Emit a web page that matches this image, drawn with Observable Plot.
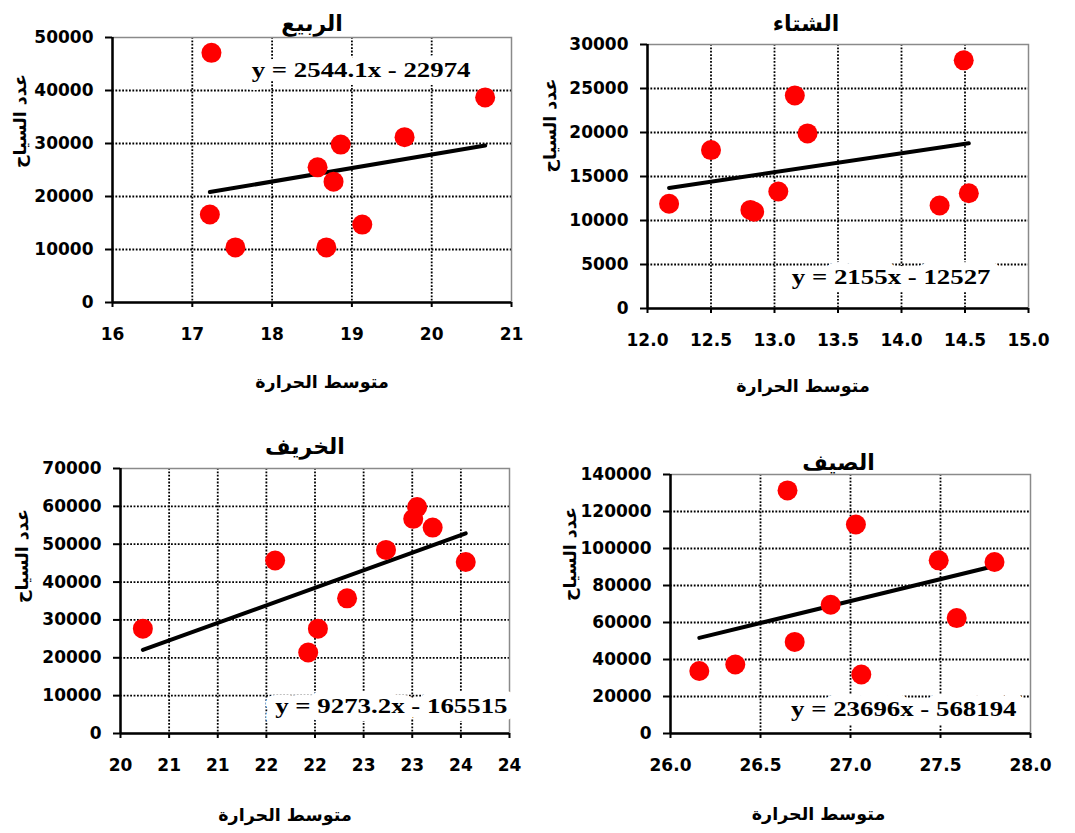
<!DOCTYPE html>
<html>
<head>
<meta charset="utf-8">
<script src="https://cdn.jsdelivr.net/npm/d3@7"></script>
<script src="https://cdn.jsdelivr.net/npm/@observablehq/plot@0.6"></script>
<style>
  body { margin: 0; background: #fff; }
  #chart { position: relative; width: 1075px; height: 833px; overflow: hidden; background: #fff; }
  #chart svg { position: absolute; }
</style>
</head>
<body>
<div id="chart"></div>
<script>
// Shared labels
const xTitle = "متوسط الحرارة";
const yTitle = "عدد السياح";

// Spring (الربيع): mean temperature vs. number of tourists
const springTemp = [17.24, 20.67, 19.66, 18.86, 18.57, 18.77, 17.22, 19.13, 17.54, 18.68];
const springTourists = [47100, 38700, 31200, 29800, 25500, 22800, 16600, 14700, 10400, 10400];
const springFit = [2544.1, -22974];
const springXTicks = [16, 17, 18, 19, 20, 21];
const springXLabels = ["16", "17", "18", "19", "20", "21"];
const springYTicks = [0, 10000, 20000, 30000, 40000, 50000];

// Winter (الشتاء)
const winterTemp = [12.17, 12.50, 12.81, 12.84, 13.03, 13.16, 13.26, 14.30, 14.49, 14.53];
const winterTourists = [11900, 18000, 11200, 11000, 13300, 24200, 19900, 11700, 28200, 13100];
const winterFit = [2155, -12527];
const winterXTicks = [12.0, 12.5, 13.0, 13.5, 14.0, 14.5, 15.0];
const winterXLabels = ["12.0", "12.5", "13.0", "13.5", "14.0", "14.5", "15.0"];
const winterYTicks = [0, 5000, 10000, 15000, 20000, 25000, 30000];

// Autumn (الخريف)
const autumnTemp = [20.23, 21.59, 21.93, 22.03, 22.33, 22.73, 23.01, 23.05, 23.21, 23.55];
const autumnTourists = [27700, 45700, 21400, 27700, 35700, 48500, 56700, 59800, 54400, 45300];
const autumnFit = [9273.2, -165515];
const autumnXTicks = [20, 20.5, 21, 21.5, 22, 22.5, 23, 23.5, 24];
const autumnXLabels = ["20", "21", "21", "22", "22", "23", "23", "24", "24"];
const autumnYTicks = [0, 10000, 20000, 30000, 40000, 50000, 60000, 70000];

// Summer (الصيف)
const summerTemp = [26.16, 26.36, 26.65, 26.69, 26.89, 27.03, 27.06, 27.49, 27.59, 27.80];
const summerTourists = [33800, 37300, 131400, 49500, 69600, 113000, 31900, 93600, 62400, 92700];
const summerFit = [23696, -568194];
const summerXTicks = [26.0, 26.5, 27.0, 27.5, 28.0];
const summerXLabels = ["26.0", "26.5", "27.0", "27.5", "28.0"];
const summerYTicks = [0, 20000, 40000, 60000, 80000, 100000, 120000, 140000];

const panels = [
  {
    title: "الربيع", temps: springTemp, tourists: springTourists, fit: springFit,
    xTicks: springXTicks, xLabels: springXLabels, yTicks: springYTicks,
    box: {left: 0, top: 0, width: 540, height: 410, mL: 112, mR: 29, mT: 37, mB: 108},
    titleOff: [0, -22], xTitleOff: [10, 85], yTitleOff: [-92, -2],
    eq: {anchor: "top-right", dx: -41, dy: 32}
  },
  {
    title: "الشتاء", temps: winterTemp, tourists: winterTourists, fit: winterFit,
    xTicks: winterXTicks, xLabels: winterXLabels, yTicks: winterYTicks,
    box: {left: 535, top: 0, width: 540, height: 410, mL: 112, mR: 47, mT: 44, mB: 102},
    titleOff: [-32, -29], xTitleOff: [-35, 83], yTitleOff: [-97, -4],
    eq: {anchor: "bottom-right", dx: -38, dy: -32}
  },
  {
    title: "الخريف", temps: autumnTemp, tourists: autumnTourists, fit: autumnFit,
    xTicks: autumnXTicks, xLabels: autumnXLabels, yTicks: autumnYTicks,
    box: {left: 0, top: 420, width: 540, height: 413, mL: 120, mR: 31, mT: 48, mB: 100},
    titleOff: [-10, -30], xTitleOff: [-30, 87], yTitleOff: [-98, 2],
    eq: {anchor: "bottom-right", dx: -2, dy: -28}
  },
  {
    title: "الصيف", temps: summerTemp, tourists: summerTourists, fit: summerFit,
    xTicks: summerXTicks, xLabels: summerXLabels, yTicks: summerYTicks,
    box: {left: 535, top: 420, width: 540, height: 413, mL: 135, mR: 45, mT: 54, mB: 100},
    titleOff: [-12, -20], xTitleOff: [-32, 86], yTitleOff: [-100, -3],
    eq: {anchor: "bottom-right", dx: -14, dy: -25}
  }
];

const chart = document.getElementById("chart");
const arabicFont = "DejaVu Sans";

for (const p of panels) {
  const points = p.temps.map((t, i) => ({t, n: p.tourists[i]}));
  const [slope, intercept] = p.fit;
  // Fitted line drawn across the observed temperature range
  const trend = d3.extent(p.temps).map(t => ({t, n: slope * t + intercept}));
  const equation = `y = ${slope}x - ${-intercept}`;
  const xFormat = new Map(p.xTicks.map((v, i) => [v, p.xLabels[i]]));
  const xDomain = [p.xTicks[0], p.xTicks[p.xTicks.length - 1]];
  const yDomain = [p.yTicks[0], p.yTicks[p.yTicks.length - 1]];
  const dotted = {stroke: "black", strokeOpacity: 1, strokeWidth: 1.8, strokeDasharray: "1.8,1.6"};

  const svg = Plot.plot({
    width: p.box.width,
    height: p.box.height,
    marginLeft: p.box.mL,
    marginRight: p.box.mR,
    marginTop: p.box.mT,
    marginBottom: p.box.mB,
    x: {domain: xDomain},
    y: {domain: yDomain},
    style: {
      fontFamily: "DejaVu Sans",
      fontWeight: "bold",
      fontSize: "17px",
      color: "black",
      background: "transparent",
      overflow: "visible"
    },
    marks: [
      Plot.gridX(p.xTicks.slice(1, -1), dotted),
      Plot.gridY(p.yTicks.slice(1, -1), dotted),
      Plot.frame({stroke: "#8a8a8a", strokeWidth: 1.5}),
      Plot.text([equation], {
        frameAnchor: p.eq.anchor, dx: p.eq.dx, dy: p.eq.dy,
        textAnchor: "end", lineAnchor: "middle",
        fontFamily: "Liberation Serif", fontSize: 22, fontWeight: "bold",
        fill: "black", stroke: "white", strokeWidth: 16, strokeLinejoin: "round", paintOrder: "stroke"
      }),
      Plot.ruleX([xDomain[0]], {stroke: "black", strokeWidth: 2.5}),
      Plot.ruleY([yDomain[0]], {stroke: "black", strokeWidth: 2.5}),
      Plot.axisX(p.xTicks, {
        tickSize: 5, tickPadding: 20, strokeWidth: 2, label: null,
        tickFormat: d => xFormat.get(d), fontSize: 17
      }),
      Plot.axisY(p.yTicks, {
        tickSize: 7, tickPadding: 12, strokeWidth: 2, label: null,
        tickFormat: d => String(d), fontSize: 17
      }),
      Plot.line(trend, {x: "t", y: "n", stroke: "black", strokeWidth: 4}),
      Plot.dot(points, {x: "t", y: "n", r: 10, fill: "#ff0000"}),
      Plot.text([p.title], {
        frameAnchor: "top", dx: p.titleOff[0], dy: p.titleOff[1],
        fontFamily: arabicFont, fontSize: 22, fontWeight: "bold", fill: "black"
      }),
      Plot.text([xTitle], {
        frameAnchor: "bottom", dx: p.xTitleOff[0], dy: p.xTitleOff[1],
        fontFamily: arabicFont, fontSize: 17.5, fontWeight: "bold", fill: "black"
      }),
      Plot.text([yTitle], {
        frameAnchor: "left", dx: p.yTitleOff[0], dy: p.yTitleOff[1], rotate: -90,
        fontFamily: arabicFont, fontSize: 17.5, fontWeight: "bold", fill: "black"
      })
    ]
  });
  svg.style.left = p.box.left + "px";
  svg.style.top = p.box.top + "px";
  chart.appendChild(svg);
}

// The equation labels use a condensed serif; widen them slightly for the bold look
document.querySelectorAll('#chart g[font-family="Liberation Serif"] text').forEach(t => {
  const w = t.getComputedTextLength();
  t.setAttribute("textLength", (w * 1.22).toFixed(1));
  t.setAttribute("lengthAdjust", "spacingAndGlyphs");
});
</script>
</body>
</html>
